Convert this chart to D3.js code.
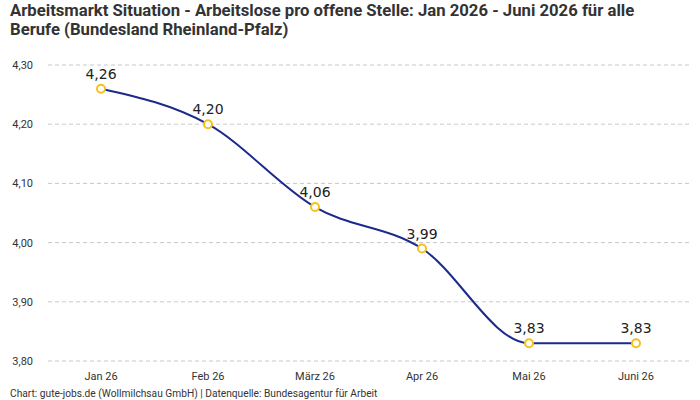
<!DOCTYPE html>
<meta charset="utf-8">
<style>
body { margin: 0; background: #fff; }
text { font-family: Roboto, "Noto Sans", sans-serif; }
.grid line { stroke: #c8c8c8; stroke-dasharray: 4,3; }
.line { fill: none; stroke: #1b2a8c; stroke-width: 2px; }
</style>
<body>
<script src="https://d3js.org/d3.v7.min.js"></script>
<script>
// data
var months = ["Jan 26", "Feb 26", "März 26", "Apr 26", "Mai 26", "Juni 26"];
var values = [4.26, 4.20, 4.06, 3.99, 3.83, 3.83];
var yTicks = [3.80, 3.90, 4.00, 4.10, 4.20, 4.30];

var width = 700, height = 400;
var fmt = function(v) { return d3.format(".2f")(v).replace(".", ","); };

var svg = d3.select("body").append("svg")
    .attr("width", width)
    .attr("height", height);

// title
svg.append("text").attr("x", 10).attr("y", 16)
    .style("font-size", "16.7px").style("font-weight", "bold").style("fill", "#333")
    .text("Arbeitsmarkt Situation - Arbeitslose pro offene Stelle: Jan 2026 - Juni 2026 für alle");
svg.append("text").attr("x", 10).attr("y", 35)
    .style("font-size", "16.7px").style("font-weight", "bold").style("fill", "#333")
    .text("Berufe (Bundesland Rheinland-Pfalz)");

// scales
var x = d3.scalePoint().domain(months).range([47.5, 689.5]).padding(0.5);
var y = d3.scaleLinear().domain([3.80, 4.30]).range([361, 65]);

// grid
var grid = svg.append("g").attr("class", "grid");
grid.selectAll("line").data(yTicks).enter().append("line")
    .attr("x1", 48).attr("x2", 690)
    .attr("y1", function(d) { return y(d); })
    .attr("y2", function(d) { return y(d); });
svg.selectAll(".ylab").data(yTicks).enter().append("text")
    .attr("class", "ylab")
    .attr("x", 33).attr("y", function(d) { return y(d) + 4; })
    .attr("text-anchor", "end")
    .style("font-size", "11px").style("fill", "#333")
    .text(fmt);

// x labels
svg.selectAll(".xlab").data(months).enter().append("text")
    .attr("class", "xlab")
    .attr("x", function(d) { return x(d); }).attr("y", 380)
    .attr("text-anchor", "middle")
    .style("font-size", "11px").style("fill", "#333")
    .text(function(d) { return d; });

// line
var pts = months.map(function(m, i) { return {m: m, v: values[i]}; });
var line = d3.line()
    .x(function(d) { return x(d.m); })
    .y(function(d) { return y(d.v); })
    .curve(d3.curveMonotoneX);
svg.append("path").datum(pts).attr("class", "line").attr("d", line);

svg.selectAll(".pt").data(pts).enter().append("circle")
    .attr("class", "pt")
    .attr("cx", function(d) { return x(d.m); })
    .attr("cy", function(d) { return y(d.v); })
    .attr("r", 4)
    .style("fill", "#fff").style("stroke", "#f5c21b").style("stroke-width", 2);

svg.selectAll(".vlab").data(pts).enter().append("text")
    .attr("class", "vlab")
    .attr("x", function(d) { return x(d.m); })
    .attr("y", function(d) { return y(d.v) - 10; })
    .attr("text-anchor", "middle")
    .style("font-family", "'DejaVu Sans', sans-serif")
    .style("font-size", "14px").style("fill", "#222")
    .text(function(d) { return fmt(d.v); });

// source
svg.append("text").attr("x", 10).attr("y", 397)
    .style("font-size", "10.2px").style("fill", "#333")
    .text("Chart: gute-jobs.de (Wollmilchsau GmbH) | Datenquelle: Bundesagentur für Arbeit");
</script>
</body>
